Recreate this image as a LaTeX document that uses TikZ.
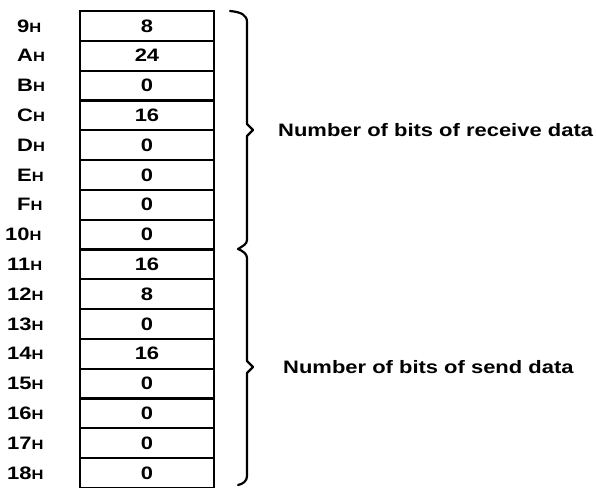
\documentclass[tikz,border=0pt]{standalone}
\usepackage{fontspec}
\newfontfamily\lbl[FakeStretch=1.22]{Liberation Sans}
\newcommand\hh{{\fontsize{13.5}{13.5}\selectfont H}}
\tikzset{
  cell/.style={draw, line width=2.2pt, minimum width=134pt, minimum height=29.8pt, inner sep=0pt,
    font=\lbl\bfseries\fontsize{18}{18}\selectfont},
  rowlbl/.style={anchor=west, inner sep=0pt, font=\lbl\bfseries\fontsize{18}{18}\selectfont},
  caption/.style={anchor=west, inner sep=0pt, font=\lbl\bfseries\fontsize{18}{18}\selectfont},
  bracepath/.style={line width=2.2pt, line join=round, line cap=round}
}
\begin{document}
\begin{tikzpicture}[x=1pt,y=-1pt]
\useasboundingbox (0,0) rectangle (596,487);
\foreach \v [count=\i] in {8,24,0,16,0,0,0,0,16,8,0,16,0,0,0,0}
  \node[cell] (c\i) at (147,{11+29.8*(\i-0.5)}) {\v};
\foreach \l/\x [count=\i] in {9/17,A/17,B/17,C/17,D/17,E/17,F/17,10/5,11/7,12/7,13/7,14/7,15/7,16/7,17/7,18/7}
  \node[rowlbl] (l\i) at (\x,{11+29.8*(\i-0.5)}) {\l\hh};
% braces
\coordinate (b1top) at (230,11);
\coordinate (b1tip) at (253,130);
\coordinate (bmid) at (238,249);
\coordinate (b2tip) at (253,367);
\coordinate (b2bot) at (238,485);
\draw[bracepath] (b1top) .. controls (241,12) and (247,15) .. (247,22) -- (247,124) -- (b1tip) -- (247,136) -- (247,240) .. controls (247,244) and (243,246) .. (bmid);
\draw[bracepath] (bmid) .. controls (243,251) and (247,254) .. (247,258) -- (247,361) -- (b2tip) -- (247,373) -- (247,476) .. controls (247,481) and (243,484) .. (b2bot);
\node[caption] (t1) at (278,130) {Number of bits of receive data};
\node[caption] (t2) at (283,367) {Number of bits of send data};
\end{tikzpicture}
\end{document}
